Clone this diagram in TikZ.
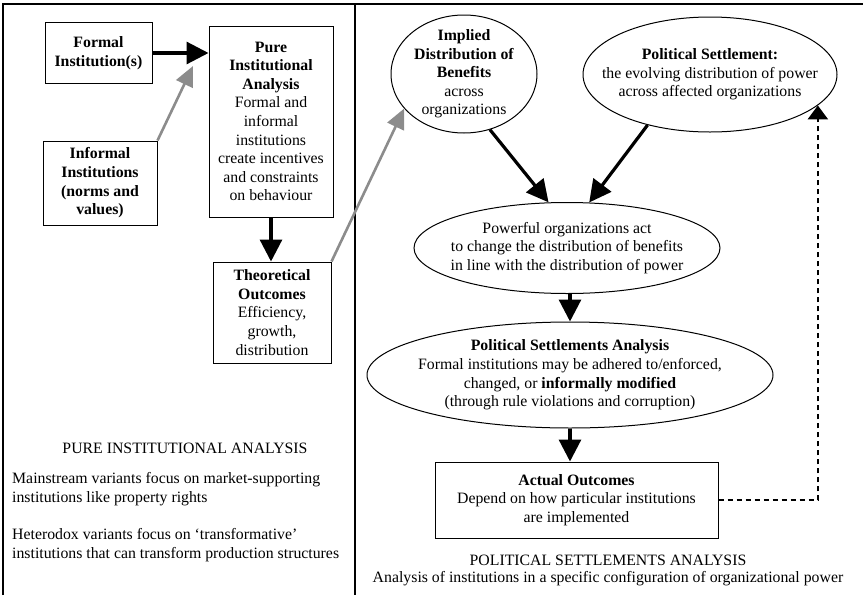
\documentclass[tikz,border=0pt]{standalone}
\usepackage{fontspec}
\setmainfont{Liberation Serif}
\usepackage{tikz}
\usepackage{xcolor}
\usetikzlibrary{arrows.meta,shapes.geometric}

\tikzset{
    txt/.style={align=center, inner sep=0pt, font=\fontsize{15.8}{18.6}\selectfont},
    box/.style={txt, draw, line width=1pt},
    bubble/.style={draw, ellipse, line width=1pt, inner sep=0pt},
    bigarrow/.style={line width=3.2pt, -{Triangle[length=22pt,width=22pt]}},
    greyarrow/.style={line width=2.6pt, draw=black!45, -{Triangle[length=20pt,width=18pt,fill=black!45]}},
    feedback/.style={line width=2.6pt, dash pattern=on 5pt off 4pt, -{Triangle[length=14pt,width=20pt]}},
    frame/.style={line width=1.2pt}
}

\begin{document}
\begin{tikzpicture}[x=1pt,y=-1pt]
            \useasboundingbox (0,0) rectangle (863,595);

            %% frame
            \draw[frame] (3,595) -- (3,4) -- (863,4);
            \draw[frame] (355,4) -- (355,595);

            %% pure institutional side
            \node[box, minimum width=107, minimum height=61] (formal) at (98.5,53) {\textbf{Formal}\\\textbf{Institution(s)}};
            \node[box, minimum width=124, minimum height=191] (pure) at (271,121.5) {\textbf{Pure}\\\textbf{Institutional}\\\textbf{Analysis}\\Formal and\\informal\\institutions\\create incentives\\and constraints\\on behaviour};
            \node[box, minimum width=114, minimum height=84] (informal) at (100,183) {\textbf{Informal}\\\textbf{Institutions}\\\textbf{(norms and}\\\textbf{values)}};
            \node[box, minimum width=118, minimum height=101] (theo) at (272,312.5) {\textbf{Theoretical}\\\textbf{Outcomes}\\Efficiency,\\growth,\\distribution};

            \node[txt] (puretitle) at (185,448) {PURE INSTITUTIONAL ANALYSIS};
            \node[txt, align=left, anchor=west] (mainstream) at (12,489) {Mainstream variants focus on market-supporting\\institutions like property rights};
            \node[txt, align=left, anchor=west] (heterodox) at (12,545) {Heterodox variants focus on `transformative'\\institutions that can transform production structures};

            %% political settlements side
            \node[bubble, minimum width=146, minimum height=118] (implied) at (464,74) {};
            \node[txt] (impliedtxt) at (implied) {\textbf{Implied}\\\textbf{Distribution of}\\\textbf{Benefits}\\across\\organizations};
            \node[bubble, minimum width=254, minimum height=115] (polset) at (710,74.5) {};
            \node[txt] (polsettxt) at (polset) {\textbf{Political Settlement:}\\the evolving distribution of power\\across affected organizations};
            \node[bubble, minimum width=306, minimum height=91] (powerful) at (567,248) {};
            \node[txt] (powerfultxt) at (powerful) {Powerful organizations act\\to change the distribution of benefits\\in line with the distribution of power};
            \node[bubble, minimum width=406, minimum height=106] (psa) at (570,375) {};
            \node[txt] (psatxt) at (psa) {\textbf{Political Settlements Analysis}\\Formal institutions may be adhered to/enforced,\\changed, or \textbf{informally modified}\\(through rule violations and corruption)};
            \node[box, minimum width=283, minimum height=76] (actual) at (576.5,500) {\textbf{Actual Outcomes}\\Depend on how particular institutions\\are implemented};

            \node[txt] (psatitle) at (608,560) {POLITICAL SETTLEMENTS ANALYSIS};
            \node[txt] (psanote) at (608,579) {Analysis of institutions in a specific configuration of organizational power};

            %% arrows
            \coordinate (informaltip) at (193,66);
            \draw[bigarrow] (formal.east) -- (formal.east -| pure.west);
            \draw[greyarrow] (informal.north east) -- (informaltip);
            \draw[bigarrow] (pure.south) -- (pure.south |- theo.north);
            \draw[greyarrow] (theo.north east) -- (implied.210);
            \draw[bigarrow] (implied.295) -- (powerful.112);
            \draw[bigarrow] (polset.219) -- (powerful.64);
            \draw[bigarrow] (psa.north |- powerful.south) -- (psa.north);
            \draw[bigarrow] (psa.south) -- (psa.south |- actual.north);
            \draw[feedback] (actual.east) -| (polset.-16.5);
\end{tikzpicture}
\end{document}
